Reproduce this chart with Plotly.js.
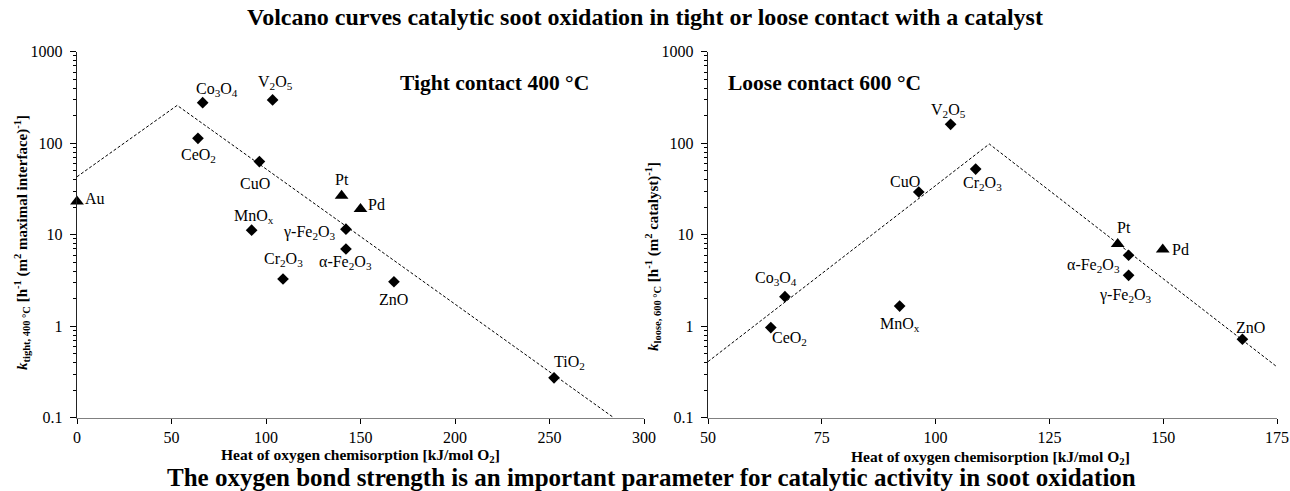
<!DOCTYPE html>
<html><head><meta charset="utf-8">
<script src="https://cdn.plot.ly/plotly-3.0.1.min.js"></script>
<style>html,body{margin:0;padding:0;background:#fff}#chart{width:1290px;height:491px}</style>
</head><body><div id="chart"></div>
<script>
// ---- Tight contact 400 °C ----
const tightNames = ['Co<sub>3</sub>O<sub>4</sub>','V<sub>2</sub>O<sub>5</sub>','CeO<sub>2</sub>','CuO','MnO<sub>x</sub>','Cr<sub>2</sub>O<sub>3</sub>','γ-Fe<sub>2</sub>O<sub>3</sub>','α-Fe<sub>2</sub>O<sub>3</sub>','ZnO','TiO<sub>2</sub>'];
const tightX = [66.5, 103.5, 64, 96.5, 92.4, 109, 142.3, 142.3, 167.7, 252.4];
const tightY = [277, 297, 113, 63, 11.2, 3.28, 11.5, 6.98, 3.06, 0.273];
const tightMetalNames = ['Au','Pt','Pd'];
const tightMetalX = [0, 140, 150];
const tightMetalY = [23, 26.7, 19.1];
const tightCurveX = [0, 53, 284];
const tightCurveY = [43, 259, 0.1];

// ---- Loose contact 600 °C ----
const looseNames = ['V<sub>2</sub>O<sub>5</sub>','CuO','Cr<sub>2</sub>O<sub>3</sub>','Co<sub>3</sub>O<sub>4</sub>','CeO<sub>2</sub>','MnO<sub>x</sub>','α-Fe<sub>2</sub>O<sub>3</sub>','γ-Fe<sub>2</sub>O<sub>3</sub>','ZnO'];
const looseX = [103.3, 96.3, 108.8, 66.9, 63.8, 92.1, 142.4, 142.4, 167.4];
const looseY = [161, 29.3, 52.2, 2.1, 0.965, 1.66, 5.96, 3.6, 0.72];
const looseMetalNames = ['Pt','Pd'];
const looseMetalX = [140, 149.9];
const looseMetalY = [7.9, 6.9];
const looseCurveX = [50, 111.8, 175.3];
const looseCurveY = [0.41, 98, 0.35];

const yTickVals = [0.1, 1, 10, 100, 1000];
const yTickText = ['0.1', '1', '10', '100', '1000'];

// label placement (pixel offsets: dx, dy up, anchor)
const tightLabelPos = [[14,13,'center'],[3,17,'center'],[1,-17,'center'],[-4,-22,'center'],[2,14,'center'],[0,20,'center'],[-8,-3,'right'],[0,-14,'center'],[0,-18,'center'],[15,15,'center']];
const tightMetalLabelPos = [[6,3,'left'],[0,16,'center'],[5,4,'left']];
const looseLabelPos = [[-2,14,'center'],[-14,10,'center'],[7,-14,'center'],[-9,18,'center'],[19,-11,'center'],[0,-18,'center'],[-7,-10,'right'],[-3,-20,'center'],[8,12,'center']];
const looseMetalLabelPos = [[6,17,'center'],[7,0,'left']];

const FONT = 'Liberation Serif, Times New Roman, serif';

function pts(x, y, sym, size, xa, ya) {
  return {x: x, y: y, type: 'scatter', mode: 'markers', xaxis: xa, yaxis: ya, cliponaxis: false,
    marker: {symbol: sym, size: size, color: 'black'}, hoverinfo: 'skip', showlegend: false};
}
function curve(x, y, xa, ya) {
  return {x: x, y: y, type: 'scatter', mode: 'lines', xaxis: xa, yaxis: ya,
    line: {color: 'black', width: 1, dash: '3px,2px'}, hoverinfo: 'skip', showlegend: false};
}

const data = [
  curve(tightCurveX, tightCurveY, 'x', 'y'),
  pts(tightX, tightY, 'diamond', 9, 'x', 'y'),
  pts(tightMetalX, tightMetalY, 'triangle-up', 12, 'x', 'y'),
  curve(looseCurveX, looseCurveY, 'x2', 'y2'),
  pts(looseX, looseY, 'diamond', 9, 'x2', 'y2'),
  pts(looseMetalX, looseMetalY, 'triangle-up', 12, 'x2', 'y2')
];

const annotations = [];
function addLabels(names, xs, ys, pos, xref, yref) {
  names.forEach((n, i) => {
    const p = pos[i];
    annotations.push({text: n, x: xs[i], y: Math.log10(ys[i]), xref: xref, yref: yref,
      showarrow: false, xanchor: p[2], yanchor: 'middle', xshift: p[0], yshift: p[1],
      font: {family: FONT, size: 16, color: 'black'}});
  });
}
addLabels(tightNames, tightX, tightY, tightLabelPos, 'x', 'y');
addLabels(tightMetalNames, tightMetalX, tightMetalY, tightMetalLabelPos, 'x', 'y');
addLabels(looseNames, looseX, looseY, looseLabelPos, 'x2', 'y2');
addLabels(looseMetalNames, looseMetalX, looseMetalY, looseMetalLabelPos, 'x2', 'y2');

const W = 1290, H = 491;
const px = v => v / W, py = v => 1 - v / H;

annotations.push(
  {text: '<b>Volcano curves catalytic soot oxidation in tight or loose contact with a catalyst</b>', xref: 'paper', yref: 'paper', x: px(645), y: py(17), showarrow: false, xanchor: 'center', yanchor: 'middle', font: {family: FONT, size: 24, color: 'black'}},
  {text: '<b>The oxygen bond strength is an important parameter for catalytic activity in soot oxidation</b>', xref: 'paper', yref: 'paper', x: px(651), y: py(477), showarrow: false, xanchor: 'center', yanchor: 'middle', font: {family: FONT, size: 25, color: 'black'}},
  {text: '<b>Tight contact 400 °C</b>', xref: 'paper', yref: 'paper', x: px(494), y: py(83), showarrow: false, xanchor: 'center', yanchor: 'middle', font: {family: FONT, size: 21.5, color: 'black'}},
  {text: '<b>Loose contact 600 °C</b>', xref: 'paper', yref: 'paper', x: px(824), y: py(83), showarrow: false, xanchor: 'center', yanchor: 'middle', font: {family: FONT, size: 21.5, color: 'black'}},
  {text: '<b>Heat of oxygen chemisorption [kJ/mol O<sub>2</sub>]</b>', xref: 'paper', yref: 'paper', x: px(360), y: py(455), showarrow: false, xanchor: 'center', yanchor: 'middle', font: {family: FONT, size: 15.5, color: 'black'}},
  {text: '<b>Heat of oxygen chemisorption [kJ/mol O<sub>2</sub>]</b>', xref: 'paper', yref: 'paper', x: px(990), y: py(457), showarrow: false, xanchor: 'center', yanchor: 'middle', font: {family: FONT, size: 15.5, color: 'black'}},
  {text: '<b><i>k</i><sub>tight, 400 °C</sub> [h<sup>-1</sup> (m<sup>2</sup> maximal interface)<sup>-1</sup>]</b>', xref: 'paper', yref: 'paper', x: px(22), y: py(243), showarrow: false, textangle: -90, xanchor: 'center', yanchor: 'middle', font: {family: FONT, size: 15, color: 'black'}},
  {text: '<b><i>k</i><sub>loose, 600 °C</sub> [h<sup>-1</sup> (m<sup>2</sup> catalyst)<sup>-1</sup>]</b>', xref: 'paper', yref: 'paper', x: px(653), y: py(257), showarrow: false, textangle: -90, xanchor: 'center', yanchor: 'middle', font: {family: FONT, size: 15, color: 'black'}}
);

const minorVals = [];
for (let k = -1; k < 3; k++) for (let m = 2; m <= 9; m++) minorVals.push(m * Math.pow(10, k));

function yAxis(anchor) {
  return {type: 'log', range: [-1, 3], domain: [py(417.7), py(51.7)], anchor: anchor,
    tickmode: 'array', tickvals: yTickVals, ticktext: yTickText,
    ticks: 'outside', ticklen: 6, tickwidth: 1, tickcolor: 'black',
    showline: true, linecolor: '#222', linewidth: 1.2, showgrid: false, zeroline: false,
    minor: {tickmode: 'array', tickvals: minorVals, ticks: 'outside', ticklen: 3, tickcolor: 'black', showgrid: false},
    tickfont: {family: FONT, size: 16, color: 'black'}, ticklabelstandoff: 4, fixedrange: true};
}
function xAxis(range, dtick, dom, anchor) {
  return {range: range, domain: dom, anchor: anchor, dtick: dtick, tick0: range[0], tickmode: 'linear',
    ticks: 'outside', ticklen: 5, tickwidth: 1, tickcolor: 'black',
    showline: true, linecolor: '#808080', linewidth: 1.5, showgrid: false, zeroline: false,
    tickfont: {family: FONT, size: 16, color: 'black'}, fixedrange: true};
}

const layout = {
  width: W, height: H, margin: {l: 0, r: 0, t: 0, b: 0},
  paper_bgcolor: 'white', plot_bgcolor: 'white', showlegend: false,
  xaxis: xAxis([0, 300], 50, [px(77), px(644)], 'y'),
  yaxis: yAxis('x'),
  xaxis2: xAxis([50, 175], 25, [px(708), px(1277)], 'y2'),
  yaxis2: yAxis('x2'),
  annotations: annotations
};

Plotly.newPlot('chart', data, layout, {staticPlot: true, displayModeBar: false});
</script>
</body></html>
